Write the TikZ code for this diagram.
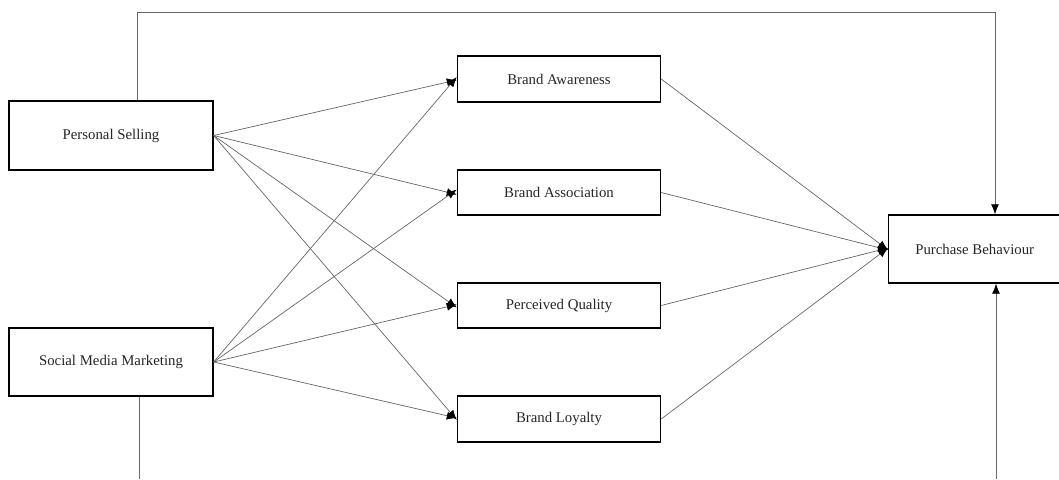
\documentclass[tikz,border=0pt]{standalone}
\usepackage{fontspec}
\setmainfont{Liberation Serif}
\usetikzlibrary{arrows.meta}
\begin{document}
\begin{tikzpicture}[x=1pt,y=-1pt,
  box/.style={draw=black,line width=1.4pt,fill=white,inner sep=0pt,text=black!85,font=\fontsize{14.8}{16}\selectfont},
  conn/.style={draw=black!60,line width=0.7pt,-{Latex[length=10pt,width=8pt,black]}},
  plain/.style={draw=black!60,line width=0.7pt}]
\useasboundingbox (0,0) rectangle (1059,479);
% boxes
\node[box,minimum width=204pt,minimum height=69pt] (ps) at (111,135.5) {Personal Selling};
\node[box,minimum width=204pt,minimum height=68pt] (smm) at (111,362) {Social Media Marketing};
\node[box,minimum width=203pt,minimum height=46pt] (ba) at (559,79) {Brand Awareness};
\node[box,minimum width=203pt,minimum height=45pt] (bas) at (559,192.5) {Brand Association};
\node[box,minimum width=203pt,minimum height=45pt] (pq) at (559,305.5) {Perceived Quality};
\node[box,minimum width=203pt,minimum height=46pt] (bl) at (559,419) {Brand Loyalty};
\node[box,minimum width=178pt,minimum height=68pt,anchor=west] (pb) at (888,249) {\hspace*{-6pt}Purchase Behaviour};
% PS to middle
\draw[conn] (ps.east) -- ([yshift=-1pt]ba.west);
\draw[conn] (ps.east) -- ([yshift=-2pt]bas.west);
\draw[conn] (ps.east) -- ([yshift=-2pt]pq.west);
\draw[conn] (ps.east) -- ([yshift=-1pt]bl.west);
% SMM to middle
\draw[conn] (smm.east) -- ([yshift=2pt]ba.west);
\draw[conn] (smm.east) -- ([yshift=3pt]bas.west);
\draw[conn] (smm.east) -- ([yshift=1pt]pq.west);
\draw[conn] (smm.east) -- ([yshift=1pt]bl.west);
% middle to PB
\draw[conn] (ba.east) -- ([yshift=-1pt]pb.west);
\draw[conn] (bas.east) -- ([yshift=-1pt]pb.west);
\draw[conn] (pq.east) -- ([yshift=1pt]pb.west);
\draw[conn] (bl.east) -- ([yshift=1pt]pb.west);
% direct paths
\coordinate (t1) at (137,12);
\coordinate (t2) at (995,12);
\draw[plain] (ps.north -| t1) -- (t1) -- (t2);
\draw[conn] (t2) -- (pb.north -| t2);
\coordinate (b1) at (139,479);
\coordinate (b2) at (996,479);
\draw[plain] (smm.south -| b1) -- (b1);
\draw[conn] (b2) -- (pb.south -| b2);
\end{tikzpicture}
\end{document}
